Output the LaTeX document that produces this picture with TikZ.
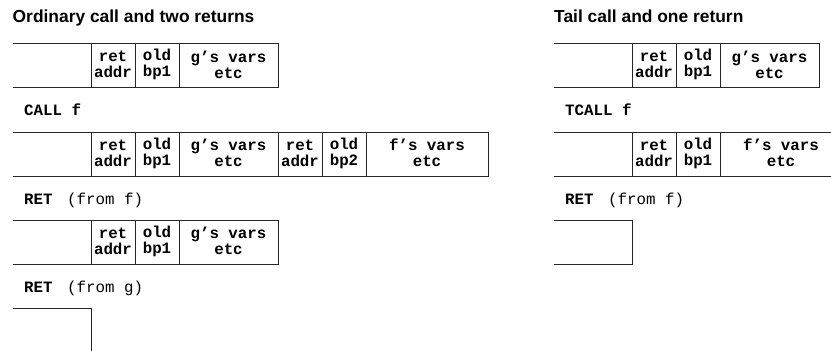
\documentclass[tikz,border=0pt]{standalone}
\usepackage{fontspec}
\setmainfont{Liberation Sans}
\newfontfamily\monof{Liberation Mono}
\newcommand\stackrow[4]{% #1 left x, #2 top y, #3 dividers, #4 right x
  \draw[frame] (#1,#2) -- (#4,#2) -- (#4,#2+44) -- (#1,#2+44);
  \foreach \xx in {#3} {\draw[frame] (\xx,#2) -- (\xx,#2+44);}
}
\begin{document}
\begin{tikzpicture}[x=1pt,y=-1pt,
  frame/.style={line width=0.9pt, draw=black!85},
  celltext/.style={font=\monof\bfseries\fontsize{15.8}{16}\selectfont, align=center, inner sep=0pt},
  titletext/.style={font=\bfseries\fontsize{17.4}{20}\selectfont, anchor=base west, inner sep=0pt},
  oplabel/.style={font=\monof\bfseries\fontsize{15.8}{18}\selectfont, anchor=base west, inner sep=0pt},
  opnote/.style={font=\monof\fontsize{15.8}{18}\selectfont, anchor=base west, inner sep=0pt}]
\clip (0,0) rectangle (831,351);
\useasboundingbox (0,0) rectangle (831,351);

% ---------- left: ordinary call ----------
\node[titletext] (ltitle) at (12.5,22) {Ordinary call and two returns};

\stackrow{13}{43.5}{91,135,179}{278}
\node[celltext] (l1ret) at (113,64.5) {ret\\addr};
\node[celltext] (l1old) at (157,64.5) {old\\bp1};
\node[celltext] (l1g)   at (228.5,64.5) {g’s vars\\etc};

\node[oplabel] (lcall) at (24,115) {CALL f};

\stackrow{13}{132}{91,135,179,278,322}{488}
\draw[frame] (366,132) -- (366,176);
\node[celltext] (l2ret) at (113,153) {ret\\addr};
\node[celltext] (l2old) at (157,153) {old\\bp1};
\node[celltext] (l2g)   at (228.5,153) {g’s vars\\etc};
\node[celltext] (l2ret2) at (300,153) {ret\\addr};
\node[celltext] (l2old2) at (344,153) {old\\bp2};
\node[celltext] (l2f)   at (427,153) {f’s vars\\etc};

\node[oplabel] (lret1) at (24,204) {RET};
\node[opnote] (lret1n) at (67,204) {(from f)};

\stackrow{13}{220}{91,135,179}{278}
\node[celltext] (l3ret) at (113,241) {ret\\addr};
\node[celltext] (l3old) at (157,241) {old\\bp1};
\node[celltext] (l3g)   at (228.5,241) {g’s vars\\etc};

\node[oplabel] (lret2) at (24,292) {RET};
\node[opnote] (lret2n) at (67,292) {(from g)};

\stackrow{13}{308}{}{91}

% ---------- right: tail call ----------
\node[titletext] (rtitle) at (554,22) {Tail call and one return};

\stackrow{554}{43.5}{632,676,720}{819}
\node[celltext] (r1ret) at (654,64.5) {ret\\addr};
\node[celltext] (r1old) at (698,64.5) {old\\bp1};
\node[celltext] (r1g)   at (769.5,64.5) {g’s vars\\etc};

\node[oplabel] (rcall) at (565,115) {TCALL f};

\stackrow{554}{132}{632,676,720}{842}
\node[celltext] (r2ret) at (654,153) {ret\\addr};
\node[celltext] (r2old) at (698,153) {old\\bp1};
\node[celltext] (r2f)   at (781,153) {f’s vars\\etc};

\node[oplabel] (rret) at (565,204) {RET};
\node[opnote] (rretn) at (608,204) {(from f)};

\stackrow{554}{220}{}{632}
\end{tikzpicture}
\end{document}
